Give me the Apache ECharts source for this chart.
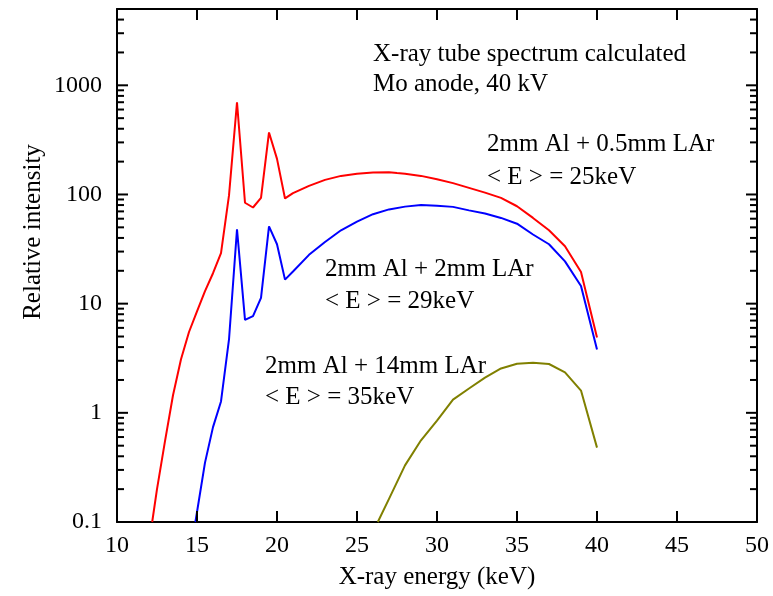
<!DOCTYPE html>
<html>
<head>
<meta charset="utf-8">
<title>X-ray tube spectrum</title>
<script src="https://cdn.jsdelivr.net/npm/echarts@6/dist/echarts.min.js"></script>
<style>
	html, body { margin: 0; padding: 0; background: #fff; }
	#chart { width: 773px; height: 596px; }
</style>
</head>
<body>
<div id="chart"></div>
<script>
	// 2mm Al + 0.5mm LAr
	var redEnergy = [12.2, 12.5, 13, 13.5, 14, 14.5, 15, 15.5, 16, 16.5, 17, 17.5, 18, 18.5, 19, 19.5, 20, 20.5, 21, 22, 23, 24, 25, 26, 27, 27.5, 28, 29, 30, 31, 32, 33, 34, 35, 36, 37, 38, 39, 40]
	var redIntensity = [0.1, 0.2, 0.55, 1.45, 3.1, 5.5, 8.5, 13, 19, 29, 98, 700, 84, 76, 93, 370, 212, 92, 103, 120, 136, 148, 155, 159, 160, 157, 155, 148, 138, 127, 115, 104, 93, 78, 61, 47, 33.6, 19.5, 4.9]
	// 2mm Al + 2mm LAr
	var blueEnergy = [14.9, 15.5, 16, 16.5, 17, 17.5, 18, 18.5, 19, 19.5, 20, 20.5, 21, 22, 23, 24, 25, 26, 27, 28, 29, 30, 31, 32, 33, 34, 35, 36, 37, 38, 39, 40]
	var blueIntensity = [0.1, 0.35, 0.74, 1.27, 4.7, 48, 7.1, 7.7, 11.3, 51, 35, 16.6, 19.7, 28, 36.7, 47, 56.5, 66, 73, 77.4, 80, 79, 77, 71.5, 67, 61, 54, 43, 35, 24.4, 14.5, 3.8]
	// 2mm Al + 14mm LAr
	var oliveEnergy = [26.3, 27, 28, 29, 30, 31, 32, 33, 34, 35, 36, 37, 38, 39, 40]
	var oliveIntensity = [0.1, 0.163, 0.33, 0.56, 0.85, 1.32, 1.67, 2.1, 2.55, 2.82, 2.87, 2.8, 2.35, 1.6, 0.48]

	var xMin = 10, xMax = 50, xStep = 5
	var yMin = 0.1, yMax = 5000
	var xTicks = [10, 15, 20, 25, 30, 35, 40, 45, 50]
	var decades = [0.1, 1, 10, 100, 1000]

	// 2..9 minor ticks inside each decade
	var minorTicks = []
	decades.forEach(function(d) {
		for (var k = 2; k <= 9; k++) {
			var v = Number((d * k).toPrecision(6))
			if (v < yMax) minorTicks.push(v)
		}
	})

	function pairs(xs, ys) {
		return xs.map(function(x, i) { return [x, ys[i]] })
	}

	var font = "'Liberation Serif', 'Times New Roman', serif"
	var textStyle = { fontFamily: font, fontSize: 25, color: '#000' }
	var tickStyle = { stroke: '#000', lineWidth: 2 }

	function note(text, x, y) {
		return {
			type: 'text',
			left: x,
			top: y,
			style: { text: text, font: '25px ' + font, fill: '#000', verticalAlign: 'middle' }
		}
	}

	function axisLine() {
		return { show: true, onZero: false, lineStyle: { color: '#000', width: 2 } }
	}

	// inside ticks on both sides of the frame, placed through the axes
	function yTickSeries(values, len) {
		return {
			type: 'custom',
			silent: true,
			clip: false,
			z: 10,
			data: values.map(function(v) { return [xMin, v] }),
			renderItem: function(params, api) {
				var v = api.value(1)
				var l = api.coord([xMin, v])
				var r = api.coord([xMax, v])
				return {
					type: 'group',
					children: [
						{ type: 'line', shape: { x1: l[0], y1: l[1], x2: l[0] + len, y2: l[1] }, style: tickStyle },
						{ type: 'line', shape: { x1: r[0] - len, y1: r[1], x2: r[0], y2: r[1] }, style: tickStyle }
					]
				}
			}
		}
	}

	function xTickSeries(values, len) {
		return {
			type: 'custom',
			silent: true,
			clip: false,
			z: 10,
			data: values.map(function(v) { return [v, yMin] }),
			renderItem: function(params, api) {
				var v = api.value(0)
				var b = api.coord([v, yMin])
				var t = api.coord([v, yMax])
				return {
					type: 'group',
					children: [
						{ type: 'line', shape: { x1: b[0], y1: b[1], x2: b[0], y2: b[1] - len }, style: tickStyle },
						{ type: 'line', shape: { x1: t[0], y1: t[1], x2: t[0], y2: t[1] + len }, style: tickStyle }
					]
				}
			}
		}
	}

	var chart = echarts.init(document.getElementById('chart'))

	var option = {
		animation: false,
		backgroundColor: '#fff',
		grid: { left: 117, right: 16, top: 9, bottom: 74 },
		xAxis: [{
			type: 'value',
			min: xMin,
			max: xMax,
			interval: xStep,
			name: 'X-ray energy (keV)',
			nameLocation: 'middle',
			nameGap: 43,
			nameTextStyle: textStyle,
			axisLine: axisLine(),
			axisTick: { show: false },
			axisLabel: { margin: 12, fontFamily: font, fontSize: 24, color: '#000' },
			splitLine: { show: false }
		}, {
			type: 'value',
			position: 'top',
			min: xMin,
			max: xMax,
			interval: xStep,
			axisLine: axisLine(),
			axisTick: { show: false },
			axisLabel: { show: false },
			splitLine: { show: false }
		}],
		yAxis: [{
			type: 'log',
			logBase: 10,
			min: yMin,
			max: yMax,
			axisLine: axisLine(),
			axisTick: { show: false },
			axisLabel: {
				margin: 15,
				showMaxLabel: false,
				fontFamily: font,
				fontSize: 24,
				color: '#000',
				formatter: function(v) { return String(Number(v.toPrecision(6))) }
			},
			splitLine: { show: false }
		}, {
			type: 'log',
			logBase: 10,
			position: 'right',
			min: yMin,
			max: yMax,
			axisLine: axisLine(),
			axisTick: { show: false },
			axisLabel: { show: false },
			splitLine: { show: false }
		}],
		graphic: [
			{
				type: 'text',
				x: 33,
				y: 232,
				rotation: Math.PI / 2,
				style: { text: 'Relative intensity', font: '25px ' + font, fill: '#000', align: 'center', verticalAlign: 'middle' }
			},
			note('X-ray tube spectrum calculated', 373, 42),
			note('Mo anode, 40 kV', 373, 72),
			note('2mm Al + 0.5mm LAr', 487, 132),
			note('< E > = 25keV', 487, 165),
			note('2mm Al + 2mm LAr', 325, 257),
			note('< E > = 29keV', 325, 289),
			note('2mm Al + 14mm LAr', 265, 354),
			note('< E > = 35keV', 265, 385)
		],
		series: [
			yTickSeries(decades, 11),
			yTickSeries(minorTicks, 7),
			xTickSeries(xTicks, 11),
			{
				name: '2mm Al + 0.5mm LAr',
				type: 'line',
				data: pairs(redEnergy, redIntensity),
				symbol: 'none',
				lineStyle: { color: '#ff0000', width: 2 }
			}, {
				name: '2mm Al + 2mm LAr',
				type: 'line',
				data: pairs(blueEnergy, blueIntensity),
				symbol: 'none',
				lineStyle: { color: '#0000ff', width: 2 }
			}, {
				name: '2mm Al + 14mm LAr',
				type: 'line',
				data: pairs(oliveEnergy, oliveIntensity),
				symbol: 'none',
				lineStyle: { color: '#808000', width: 2 }
			}
		]
	}
	chart.setOption(option)
</script>
</body>
</html>
